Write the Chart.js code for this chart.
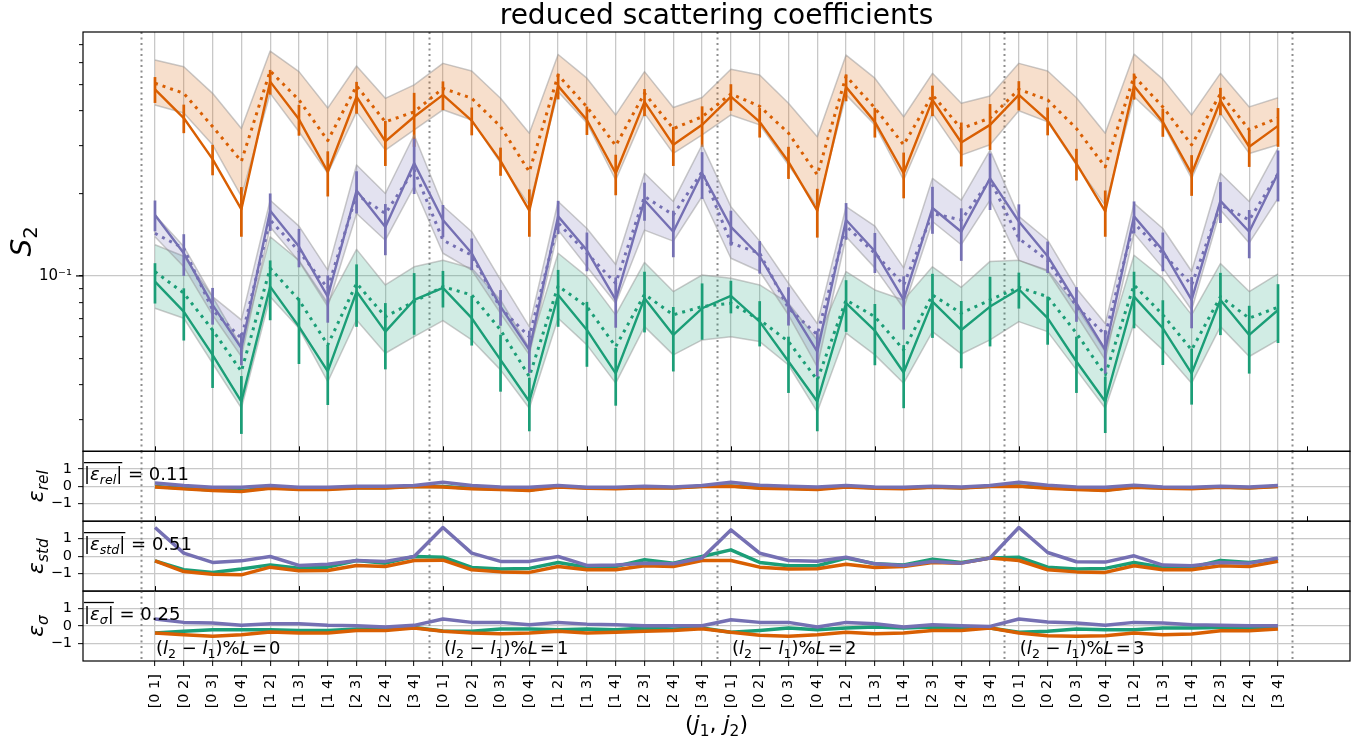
<!DOCTYPE html>
<html><head><meta charset="utf-8">
<script src="https://cdn.jsdelivr.net/npm/chart.js@4.4.0/dist/chart.umd.min.js"></script>
<style>
html,body{margin:0;padding:0;background:#fff;}
#wrap{position:relative;width:1367px;height:743px;overflow:hidden;background:#fff;}
canvas{position:absolute;left:0;top:0;}
</style></head><body><div id="wrap">
<canvas id="c0" width="1367" height="743"></canvas>
<canvas id="c1" width="1367" height="743"></canvas>
<canvas id="c2" width="1367" height="743"></canvas>
<canvas id="c3" width="1367" height="743"></canvas>
</div>
<script>
// ---------------- data ----------------
const pairs = ['[0 1]','[0 2]','[0 3]','[0 4]','[1 2]','[1 3]','[1 4]','[2 3]','[2 4]','[3 4]'];
const groupIds = ['0','1','2','3'];
const categories = groupIds.flatMap(() => pairs);
const xTickIdx = categories.map((_, i) => i);
const majorX = [0,5,10,15,20,25,30,35,40];
const separators = [-0.5, 9.5, 19.5, 29.5, 39.5];
const yMainTicks = [0.03,0.04,0.05,0.06,0.07,0.08,0.09,0.1,0.2,0.3,0.4,0.5,0.6,0.7];
const epsTicks = [-1, 0, 1];
const epsMeanRel = '0.11', epsMeanStd = '0.51', epsMeanSig = '0.25';

// orange series
const orangeSolid = [0.480,0.377,0.267,0.175,0.512,0.373,0.240,0.451,0.310,0.381,
 0.458,0.369,0.263,0.173,0.494,0.371,0.237,0.432,0.301,0.356,
 0.451,0.365,0.261,0.173,0.489,0.365,0.237,0.439,0.307,0.356,
 0.458,0.369,0.257,0.172,0.494,0.365,0.236,0.436,0.296,0.353];
const orangeDotted = [0.505,0.464,0.351,0.262,0.560,0.439,0.312,0.494,0.365,0.397,
 0.484,0.445,0.351,0.240,0.541,0.414,0.299,0.464,0.345,0.381,
 0.462,0.416,0.332,0.234,0.536,0.410,0.301,0.458,0.345,0.377,
 0.480,0.439,0.345,0.250,0.536,0.414,0.301,0.462,0.342,0.377];
const orangeHi = [0.614,0.580,0.464,0.345,0.662,0.557,0.410,0.584,0.445,0.498,
 0.597,0.560,0.445,0.332,0.643,0.527,0.387,0.557,0.412,0.448,
 0.568,0.541,0.427,0.322,0.640,0.527,0.381,0.549,0.427,0.454,
 0.597,0.560,0.447,0.332,0.645,0.523,0.387,0.549,0.414,0.447];
const orangeLo = [0.421,0.393,0.301,0.195,0.464,0.336,0.237,0.397,0.288,0.341,
 0.404,0.371,0.258,0.181,0.470,0.362,0.224,0.392,0.280,0.327,
 0.387,0.356,0.254,0.179,0.458,0.356,0.224,0.392,0.276,0.301,
 0.401,0.365,0.254,0.181,0.451,0.359,0.227,0.392,0.280,0.301];
const orangeErr = [0.052,0.045,0.034,0.036,0.053,0.048,0.045,0.060,0.058,0.085,
 0.055,0.043,0.031,0.034,0.053,0.044,0.040,0.049,0.049,0.060,
 0.050,0.045,0.035,0.035,0.055,0.045,0.045,0.056,0.056,0.068,
 0.056,0.043,0.034,0.033,0.054,0.043,0.040,0.050,0.046,0.057];

// purple series
const purpleSolid = [0.167,0.121,0.0784,0.0545,0.173,0.128,0.0840,0.205,0.151,0.258,
 0.160,0.121,0.0773,0.0537,0.165,0.124,0.0817,0.189,0.145,0.237,
 0.151,0.118,0.0784,0.0529,0.160,0.123,0.0817,0.177,0.145,0.227,
 0.158,0.118,0.0795,0.0537,0.165,0.124,0.0817,0.188,0.145,0.237];
const purpleDotted = [0.143,0.126,0.0751,0.0592,0.160,0.123,0.0902,0.198,0.169,0.244,
 0.135,0.119,0.0762,0.0600,0.156,0.121,0.0940,0.195,0.167,0.240,
 0.132,0.121,0.0762,0.0610,0.152,0.121,0.0927,0.169,0.160,0.224,
 0.137,0.114,0.0773,0.0610,0.156,0.121,0.0927,0.182,0.160,0.236];
const purpleHi = [0.167,0.128,0.084,0.0691,0.189,0.152,0.105,0.254,0.200,0.327,
 0.180,0.145,0.0967,0.0653,0.187,0.149,0.110,0.237,0.187,0.301,
 0.179,0.134,0.094,0.067,0.179,0.152,0.107,0.227,0.189,0.288,
 0.165,0.135,0.090,0.067,0.184,0.149,0.104,0.237,0.187,0.293];
const purpleLo = [0.139,0.108,0.072,0.0508,0.151,0.113,0.0773,0.169,0.135,0.212,
 0.121,0.105,0.073,0.0515,0.147,0.108,0.0795,0.147,0.134,0.195,
 0.116,0.104,0.072,0.0466,0.139,0.107,0.0762,0.158,0.130,0.189,
 0.114,0.104,0.072,0.0494,0.143,0.107,0.0751,0.174,0.132,0.192];
const purpleErr = [0.0215,0.021,0.012,0.0073,0.027,0.0205,0.0165,0.036,0.032,0.059,
 0.0215,0.016,0.0115,0.0094,0.023,0.020,0.017,0.030,0.028,0.046,
 0.022,0.016,0.0125,0.010,0.0245,0.0205,0.018,0.0345,0.0315,0.053,
 0.0245,0.0155,0.0115,0.0097,0.022,0.020,0.0173,0.032,0.029,0.050];

// green series
const greenSolid = [0.0953,0.0741,0.0515,0.0348,0.0914,0.0653,0.0448,0.0877,0.0626,0.0817,
 0.0905,0.0701,0.0494,0.0348,0.0852,0.0635,0.0441,0.0829,0.0609,0.0762,
 0.0845,0.0681,0.0487,0.0348,0.0795,0.0631,0.0444,0.0806,0.0635,0.0773,
 0.0894,0.0701,0.0487,0.0348,0.0840,0.0644,0.0441,0.0817,0.0609,0.0751];
const greenDotted = [0.1037,0.0865,0.0635,0.0448,0.1067,0.0817,0.0560,0.0940,0.0710,0.0806,
 0.0914,0.0852,0.0635,0.0429,0.0919,0.0773,0.0552,0.0857,0.0721,0.0773,
 0.0795,0.0691,0.0576,0.0417,0.0817,0.0710,0.0537,0.0852,0.0731,0.0817,
 0.0909,0.0840,0.0618,0.0435,0.0927,0.0721,0.0537,0.0840,0.0701,0.0769];
const greenHi = [0.130,0.118,0.084,0.0552,0.139,0.114,0.0795,0.125,0.0927,0.108,
 0.114,0.1067,0.0817,0.0545,0.121,0.0994,0.0721,0.112,0.0877,0.1008,
 0.098,0.0927,0.0795,0.0584,0.1037,0.0889,0.0817,0.108,0.0909,0.113,
 0.114,0.105,0.0773,0.0529,0.119,0.098,0.0721,0.111,0.0877,0.1017];
const greenLo = [0.0762,0.0701,0.048,0.0329,0.084,0.0644,0.0411,0.0691,0.0522,0.060,
 0.0687,0.0584,0.0454,0.0329,0.0701,0.056,0.0406,0.0653,0.0515,0.0584,
 0.060,0.0576,0.0473,0.0319,0.0618,0.0515,0.0406,0.0626,0.0519,0.0584,
 0.0681,0.0626,0.0454,0.0329,0.0672,0.0537,0.0406,0.0653,0.0508,0.0584];
const greenErr = [0.016,0.016,0.0125,0.0083,0.0225,0.0176,0.011,0.0225,0.017,0.0207,
 0.0138,0.0144,0.0116,0.0077,0.020,0.0169,0.0105,0.0207,0.0161,0.0177,
 0.0115,0.0128,0.0113,0.0077,0.017,0.0159,0.0115,0.0212,0.0175,0.022,
 0.0134,0.014,0.0113,0.0081,0.0196,0.0171,0.0102,0.0209,0.0169,0.0182];

// epsilon_rel
const relPurple = [0.19,0.04,-0.06,-0.06,0.04,-0.06,-0.06,0,0,0.04,
 0.23,0.04,-0.04,-0.06,0.04,-0.06,-0.06,0,-0.04,0.04,
 0.23,0.06,0,-0.04,0.04,-0.04,-0.06,0,-0.04,0.04,
 0.23,0.06,-0.04,-0.06,0.06,-0.04,-0.06,0,-0.04,0.04];
const relOrange = [-0.04,-0.15,-0.25,-0.30,-0.11,-0.19,-0.19,-0.10,-0.10,-0.02,
 -0.04,-0.15,-0.19,-0.25,-0.04,-0.11,-0.15,-0.08,-0.10,-0.02,
 0,-0.11,-0.15,-0.19,-0.04,-0.11,-0.15,-0.06,-0.10,-0.02,
 0,-0.11,-0.19,-0.25,-0.06,-0.11,-0.15,-0.06,-0.10,-0.02];
const relGreen = [-0.02,-0.12,-0.21,-0.25,-0.08,-0.15,-0.15,-0.08,-0.08,0,
 -0.02,-0.12,-0.15,-0.21,-0.02,-0.08,-0.12,-0.06,-0.08,0,
 0.02,-0.08,-0.12,-0.15,-0.02,-0.08,-0.12,-0.04,-0.08,0,
 0.02,-0.08,-0.15,-0.21,-0.04,-0.08,-0.12,-0.04,-0.08,0];

// epsilon_std
const stdPurple = [1.64,0.17,-0.36,-0.27,-0.02,-0.53,-0.46,-0.25,-0.30,-0.02,
 1.64,0.17,-0.30,-0.30,-0.02,-0.53,-0.51,-0.40,-0.44,-0.11,
 1.50,0.17,-0.25,-0.29,-0.06,-0.44,-0.53,-0.30,-0.40,-0.11,
 1.64,0.21,-0.32,-0.34,0.02,-0.51,-0.55,-0.36,-0.40,-0.11];
const stdOrange = [-0.27,-0.88,-1.03,-1.07,-0.63,-0.84,-0.82,-0.53,-0.59,-0.25,
 -0.23,-0.78,-0.90,-0.93,-0.59,-0.78,-0.78,-0.55,-0.59,-0.25,
 -0.25,-0.63,-0.74,-0.72,-0.46,-0.65,-0.59,-0.36,-0.40,-0.11,
 -0.25,-0.78,-0.90,-0.93,-0.55,-0.78,-0.78,-0.55,-0.59,-0.30];
const stdGreen = [-0.27,-0.78,-0.93,-0.74,-0.50,-0.69,-0.63,-0.25,-0.40,-0.02,
 -0.06,-0.65,-0.74,-0.70,-0.36,-0.63,-0.59,-0.21,-0.40,-0.02,
 0.36,-0.36,-0.55,-0.55,-0.11,-0.44,-0.50,-0.17,-0.36,-0.11,
 -0.06,-0.63,-0.74,-0.70,-0.36,-0.63,-0.65,-0.25,-0.36,-0.15];

// epsilon_sigma
const sigPurple = [0.40,0.21,0.17,0.04,0.13,0.13,0.04,0.02,-0.06,0.04,
 0.40,0.21,0.21,0.08,0.21,0.11,0.08,0.02,0.02,0.02,
 0.36,0.21,0.21,-0.06,0.21,0.13,-0.06,0.08,0.02,-0.02,
 0.40,0.23,0.17,0.04,0.21,0.17,0.08,0.04,0.02,0.02];
const sigOrange = [-0.40,-0.50,-0.59,-0.50,-0.34,-0.40,-0.40,-0.25,-0.25,-0.11,
 -0.30,-0.40,-0.44,-0.40,-0.30,-0.40,-0.36,-0.30,-0.25,-0.15,
 -0.36,-0.53,-0.59,-0.50,-0.36,-0.44,-0.40,-0.25,-0.25,-0.11,
 -0.40,-0.55,-0.59,-0.55,-0.40,-0.50,-0.46,-0.27,-0.27,-0.17];
const sigGreen = [-0.40,-0.30,-0.21,-0.21,-0.21,-0.25,-0.25,-0.17,-0.17,-0.08,
 -0.28,-0.30,-0.17,-0.17,-0.21,-0.17,-0.21,-0.11,-0.17,-0.11,
 -0.36,-0.25,-0.11,-0.21,-0.11,-0.06,-0.11,-0.06,-0.11,-0.11,
 -0.36,-0.30,-0.17,-0.21,-0.21,-0.11,-0.11,-0.08,-0.06,-0.08];

// ---------------- styling ----------------
const GREEN = '#1b9e77', ORANGE = '#d95f02', PURPLE = '#7570b3';
const GRID = '#c8c8c8';
const EDGE = 'rgba(150,150,150,0.5)';
const FONT = '"DejaVu Sans", sans-serif';
Chart.defaults.font.family = FONT;
Chart.defaults.font.size = 14;
Chart.defaults.color = '#000';

const pts = arr => arr.map((v, i) => ({x: i, y: v}));

// ---------------- rich text helpers ----------------
function fontOf(p, size){ return (p.i ? 'italic ' : '') + ((p.s || 1) * size) + 'px ' + FONT; }
function richWidth(ctx, parts, size){
  let w = 0;
  for (const p of parts){ ctx.font = fontOf(p, size); w += ctx.measureText(p.t).width + (p.sp || 0) * size; }
  return w;
}
function drawRich(ctx, x, y, parts, size){
  let cx = x;
  for (const p of parts){
    ctx.font = fontOf(p, size);
    ctx.fillText(p.t, cx, y + (p.dy || 0) * size);
    cx += ctx.measureText(p.t).width + (p.sp || 0) * size;
  }
  return cx;
}
function drawRotated(ctx, x, y, parts, size){
  ctx.save(); ctx.translate(x, y); ctx.rotate(-Math.PI / 2);
  ctx.textBaseline = 'alphabetic'; ctx.textAlign = 'left';
  const w = richWidth(ctx, parts, size);
  drawRich(ctx, -w / 2, 0, parts, size);
  ctx.restore();
}
function drawMeanBox(ctx, x, y, sub, subItalic, val){
  const size = 18;
  ctx.textBaseline = 'alphabetic'; ctx.textAlign = 'left'; ctx.fillStyle = '#000';
  let cx = drawRich(ctx, x, y, [{t:'|'},{t:'ε', i:1},{t:sub, i:subItalic, s:0.7, dy:0.22},{t:'|'}], size);
  ctx.save(); ctx.strokeStyle = '#000'; ctx.lineWidth = 1.3;
  ctx.beginPath(); ctx.moveTo(x, y - 17.3); ctx.lineTo(cx, y - 17.3); ctx.stroke(); ctx.restore();
  drawRich(ctx, cx, y, [{t:' = ' + val}], size);
}

const decoMap = {};
Chart.register({
  id: 'deco',
  beforeDatasetsDraw(chart){
    const ca = chart.chartArea, xs = chart.scales.x, ctx = chart.ctx;
    ctx.save(); ctx.strokeStyle = '#8e8e8e'; ctx.lineWidth = 2; ctx.setLineDash([2, 3.5]);
    separators.forEach(v => {
      const px = Math.round(xs.getPixelForValue(v)) + 0.5;
      ctx.beginPath(); ctx.moveTo(px, ca.top); ctx.lineTo(px, ca.bottom); ctx.stroke();
    });
    ctx.restore();
  },
  afterDatasetDraw(chart, args){
    const ds = chart.data.datasets[args.index];
    if (!ds.errs) return;
    const ctx = chart.ctx, xs = chart.scales.x, ys = chart.scales.y;
    ctx.save(); ctx.strokeStyle = ds.borderColor; ctx.lineWidth = 2.7; ctx.lineCap = 'butt';
    ds.data.forEach((p, i) => {
      const e = ds.errs[i], px = xs.getPixelForValue(p.x);
      ctx.beginPath(); ctx.moveTo(px, ys.getPixelForValue(p.y + e)); ctx.lineTo(px, ys.getPixelForValue(p.y - e)); ctx.stroke();
    });
    ctx.restore();
  },
  afterDraw(chart){
    const d = decoMap[chart.canvas.id];
    const ctx = chart.ctx, ca = chart.chartArea, xs = chart.scales.x;
    ctx.save();
    if (d.topTicks){
      ctx.strokeStyle = '#000'; ctx.lineWidth = 1;
      majorX.forEach(v => {
        const px = Math.round(xs.getPixelForValue(v)) + 0.5;
        ctx.beginPath(); ctx.moveTo(px, ca.bottom); ctx.lineTo(px, ca.bottom - 5); ctx.stroke();
      });
    }
    if (d.majorY){
      const py = chart.scales.y.getPixelForValue(d.majorY);
      ctx.strokeStyle = '#000'; ctx.lineWidth = 1.2;
      ctx.beginPath(); ctx.moveTo(ca.left - 7, py); ctx.lineTo(ca.left, py); ctx.stroke();
    }
    ctx.strokeStyle = '#000'; ctx.lineWidth = 1.2;
    ctx.strokeRect(ca.left, ca.top, ca.right - ca.left, ca.bottom - ca.top);
    ctx.fillStyle = '#000';
    d.draw(ctx, chart);
    ctx.restore();
  }
});

function xAxis(bottom){
  return {
    type: 'linear', min: -2.5, max: 41.5,
    afterBuildTicks: s => { s.ticks = xTickIdx.map(v => ({value: v})); },
    afterFit: s => { s.height = bottom ? 60 : 0; },
    border: {display: false},
    grid: {color: GRID, lineWidth: 1.3, drawTicks: bottom, tickLength: 5, tickColor: '#000', tickWidth: 1},
    ticks: {display: bottom, autoSkip: false, maxRotation: 90, minRotation: 90, padding: 8,
            font: {size: 14.5}, color: '#000', callback: v => categories[v] ?? ''}
  };
}
function epsY(){
  return {
    type: 'linear', min: -2, max: 2,
    afterBuildTicks: s => { s.ticks = epsTicks.map(v => ({value: v})); },
    afterFit: s => { s.width = 83; },
    border: {display: false},
    grid: {color: GRID, lineWidth: 1.3, drawTicks: true, tickLength: 5, tickColor: '#000', tickWidth: 1},
    ticks: {padding: 6, font: {size: 14.5}, color: '#000', callback: v => v < 0 ? '\u2212' + (-v) : String(v)}
  };
}
function baseOptions(padTop, padBottom, yScale, bottom){
  return {
    responsive: false, animation: false, devicePixelRatio: 1, events: [],
    layout: {padding: {top: padTop, bottom: padBottom, left: 0, right: 17}},
    elements: {point: {radius: 0}, line: {tension: 0, borderJoinStyle: 'round'}},
    plugins: {legend: {display: false}, tooltip: {enabled: false}, title: {display: false}},
    scales: {x: xAxis(bottom), y: yScale}
  };
}

// ---------------- main panel ----------------
function seriesSets(col, band, hi, lo, solid, dotted, err, base){
  return [
    {data: pts(hi), borderColor: EDGE, borderWidth: 1.5, backgroundColor: band, fill: '+1', order: base},
    {data: pts(lo), borderColor: EDGE, borderWidth: 1.5, fill: false, order: base - 1},
    {data: pts(solid), borderColor: col, borderWidth: 2.4, fill: false, order: base - 2, errs: err},
    {data: pts(dotted), borderColor: col, borderWidth: 3, borderDash: [3, 5], borderCapStyle: 'butt', fill: false, order: base - 3}
  ];
}
const mainSets = [
  ...seriesSets(GREEN, 'rgba(27,158,119,0.2)', greenHi, greenLo, greenSolid, greenDotted, greenErr, 100),
  ...seriesSets(ORANGE, 'rgba(217,95,2,0.2)', orangeHi, orangeLo, orangeSolid, orangeDotted, orangeErr, 90),
  ...seriesSets(PURPLE, 'rgba(117,112,179,0.2)', purpleHi, purpleLo, purpleSolid, purpleDotted, purpleErr, 80)
];
const P = [[32, 451.3], [451.3, 521.2], [521.2, 591.1], [591.1, 661]];

decoMap.c0 = {topTicks: true, majorY: 0.1, draw(ctx){
  ctx.textAlign = 'center'; ctx.textBaseline = 'alphabetic';
  ctx.font = '28px ' + FONT;
  ctx.fillText('reduced scattering coefficients', 716.5, 23.5);
  drawRotated(ctx, 31, 241.5, [{t:'S', i:1},{t:'2', s:0.7, dy:0.22}], 28);
}};
new Chart(document.getElementById('c0'), {
  type: 'line',
  data: {datasets: mainSets},
  options: baseOptions(P[0][0], 743 - P[0][1], {
    type: 'logarithmic', min: 0.0229, max: 0.777,
    afterBuildTicks: s => { s.ticks = yMainTicks.map(v => ({value: v})); },
    afterFit: s => { s.width = 83; },
    border: {display: false},
    grid: {color: c => (c.tick && c.tick.value === 0.1) ? GRID : 'rgba(0,0,0,0)', lineWidth: 1.3,
           drawTicks: true, tickLength: 4, tickColor: '#000', tickWidth: 1},
    ticks: {autoSkip: false, padding: 7, font: {size: 15}, color: '#000', callback: v => v === 0.1 ? '10\u207B\u00B9' : ''}
  }, false)
});

// ---------------- epsilon panels ----------------
function epsSets(g, o, p){
  return [
    {data: pts(g), borderColor: GREEN, borderWidth: 3.5, fill: false, order: 3},
    {data: pts(o), borderColor: ORANGE, borderWidth: 3.5, fill: false, order: 2},
    {data: pts(p), borderColor: PURPLE, borderWidth: 3.5, fill: false, order: 1}
  ];
}
decoMap.c1 = {topTicks: true, draw(ctx){
  drawRotated(ctx, 43, (P[1][0] + P[1][1]) / 2, [{t:'ε', i:1},{t:'rel', i:1, s:0.7, dy:0.22}], 22);
  drawMeanBox(ctx, 84, P[1][0] + 28.7, 'rel', 1, epsMeanRel);
}};
decoMap.c2 = {topTicks: true, draw(ctx){
  drawRotated(ctx, 43, (P[2][0] + P[2][1]) / 2, [{t:'ε', i:1},{t:'std', i:1, s:0.7, dy:0.22}], 22);
  drawMeanBox(ctx, 84, P[2][0] + 28.7, 'std', 1, epsMeanStd);
}};
decoMap.c3 = {topTicks: false, draw(ctx, chart){
  drawRotated(ctx, 43, (P[3][0] + P[3][1]) / 2, [{t:'ε', i:1},{t:'σ', i:1, s:0.7, dy:0.22}], 22);
  drawMeanBox(ctx, 84, P[3][0] + 28.7, 'σ', 1, epsMeanSig);
  ctx.textAlign = 'left'; ctx.textBaseline = 'alphabetic';
  const xs = chart.scales.x;
  groupIds.forEach((g, k) => {
    const x0 = xs.getPixelForValue(k * 10) + 1;
    drawRich(ctx, x0, 654, [{t:'('},{t:'l', i:1},{t:'2', s:0.7, dy:0.22},{t:' \u2212 '},{t:'l', i:1},{t:'1', s:0.7, dy:0.22},
      {t:')'},{t:'%'},{t:'L', i:1, sp:0.12},{t:'=', sp:0.12},{t:g}], 18);
  });
  const parts = [{t:'('},{t:'j', i:1},{t:'1', s:0.7, dy:0.22},{t:', '},{t:'j', i:1},{t:'2', s:0.7, dy:0.22},{t:')'}];
  const w = richWidth(ctx, parts, 22);
  drawRich(ctx, 716.5 - w / 2, 731, parts, 22);
}};
new Chart(document.getElementById('c1'), {type: 'line', data: {datasets: epsSets(relGreen, relOrange, relPurple)},
  options: baseOptions(P[1][0], 743 - P[1][1], epsY(), false)});
new Chart(document.getElementById('c2'), {type: 'line', data: {datasets: epsSets(stdGreen, stdOrange, stdPurple)},
  options: baseOptions(P[2][0], 743 - P[2][1], epsY(), false)});
new Chart(document.getElementById('c3'), {type: 'line', data: {datasets: epsSets(sigGreen, sigOrange, sigPurple)},
  options: baseOptions(P[3][0], 743 - P[3][1] - 60, epsY(), true)});
</script></body></html>
